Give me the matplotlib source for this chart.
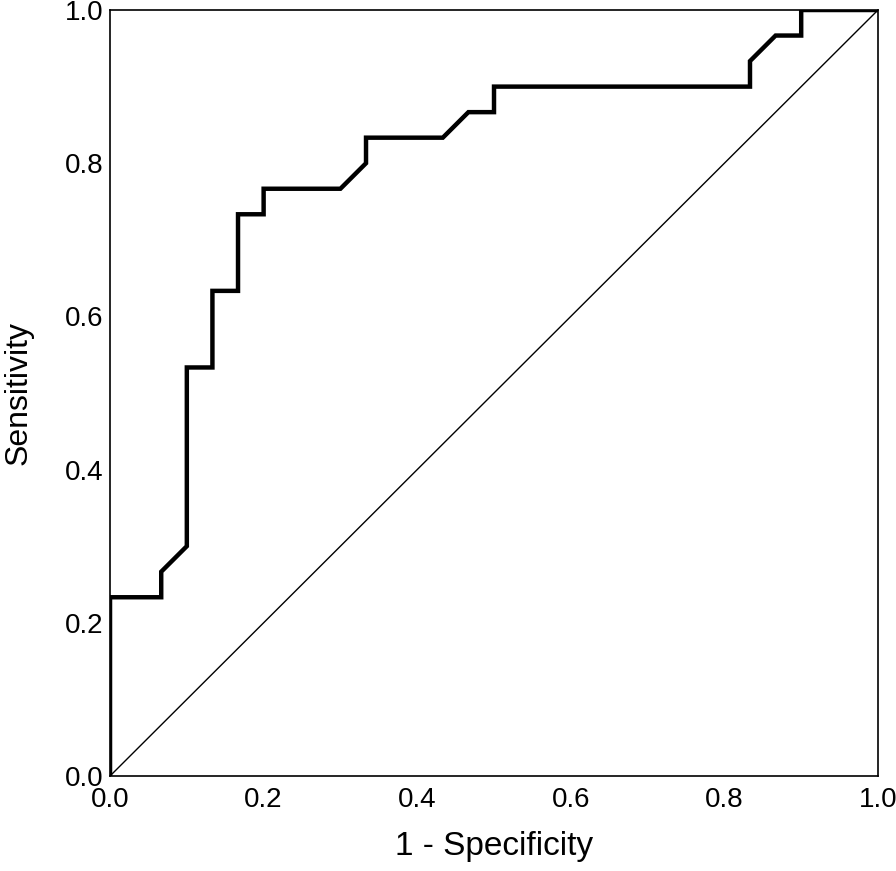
import matplotlib
matplotlib.use("Agg")
import matplotlib.pyplot as plt

plt.rcParams['font.family'] = ['Liberation Sans', 'DejaVu Sans']

# ROC curve points (1 - specificity, sensitivity), steps of 1/30
fpr_30 = [0, 0, 2, 2, 3, 3, 4, 4, 5, 5, 6, 6, 9, 10, 10, 13, 14, 15, 15, 25, 25, 26, 27, 27, 30]
tpr_30 = [0, 7, 7, 8, 9, 16, 16, 19, 19, 22, 22, 23, 23, 24, 25, 25, 26, 26, 27, 27, 28, 29, 29, 30, 30]
fpr = [v / 30 for v in fpr_30]
tpr = [v / 30 for v in tpr_30]

ticks = [0.0, 0.2, 0.4, 0.6, 0.8, 1.0]
tick_labels = ["0.0", "0.2", "0.4", "0.6", "0.8", "1.0"]

fig = plt.figure(figsize=(8.96, 8.71), dpi=100)
ax = fig.add_axes([0.1228, 0.1091, 0.8571, 0.8794])

ax.plot([0, 1], [0, 1], color="black", lw=1.0)
ax.plot(fpr, tpr, color="black", lw=3.2, solid_joinstyle="miter")

ax.set_xlim(0, 1)
ax.set_ylim(0, 1)
ax.set_xticks(ticks)
ax.set_xticklabels(tick_labels)
ax.set_yticks(ticks)
ax.set_yticklabels(tick_labels)
ax.tick_params(length=0, labelsize=20)
ax.tick_params(axis="x", pad=8)
ax.tick_params(axis="y", pad=5)
for s in ax.spines.values():
    s.set_linewidth(1.2)

ax.set_xlabel("1 - Specificity", fontsize=24, labelpad=13)
ax.set_ylabel("Sensitivity", fontsize=23, labelpad=22)

fig.savefig("out.png", dpi=100)
